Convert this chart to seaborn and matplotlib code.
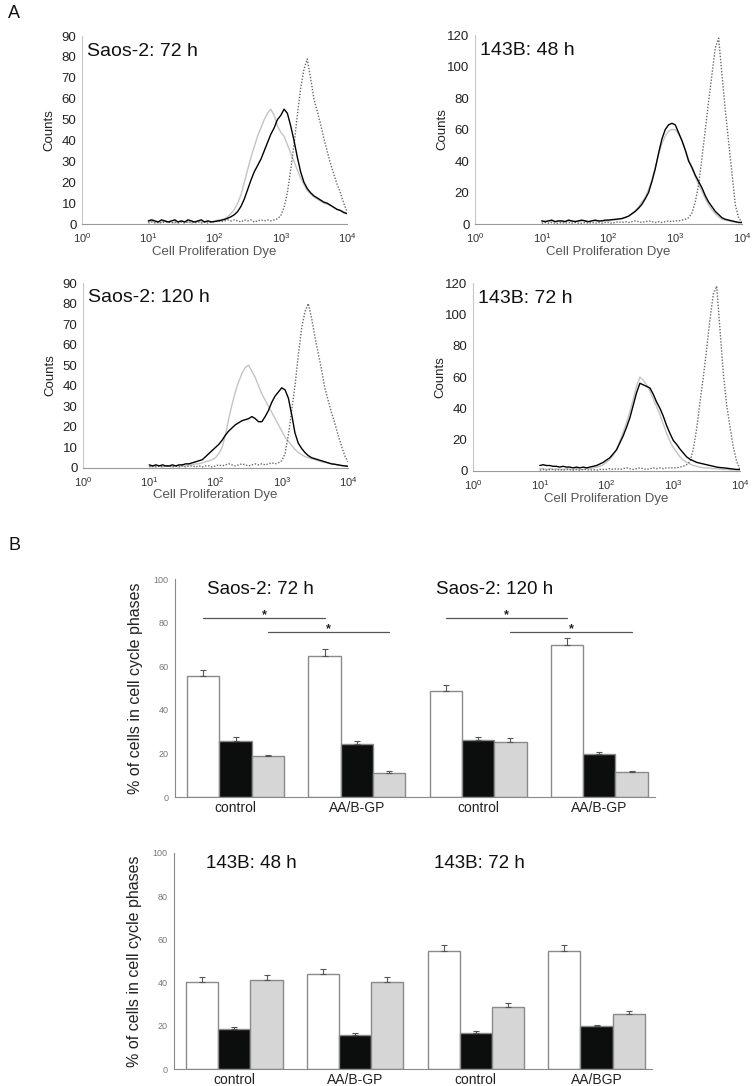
import numpy as np
import pandas as pd
import matplotlib
matplotlib.use("Agg")
import matplotlib.pyplot as plt
import seaborn as sns

sns.set_style("white")
plt.rcParams["font.family"] = ["Liberation Sans", "DejaVu Sans"]
plt.rcParams["mathtext.fontset"] = "custom"
plt.rcParams["mathtext.rm"] = "Liberation Sans"
plt.rcParams["mathtext.it"] = "Liberation Sans:italic"

## Panel A: flow cytometry histograms, counts read at log10(dye) = 1.00, 1.05, ... 4.00
dye_log = np.linspace(1.0, 4.0, 61)

saos72_black = [1.5, 2, 1.5, 1, 2, 1.5, 1, 1.5, 2, 1, 1.5, 1, 2, 1.5, 1, 1.5, 2, 1, 1.5, 1,
                1.2, 1.5, 1.8, 2.2, 2.8, 3.5, 4.5, 6, 8.5, 12, 16.5, 21, 25, 28, 31, 35, 39, 43, 46, 50,
                52, 55, 53, 47, 40, 32, 25, 20, 17, 15, 13.5, 12.5, 11.5, 10.5, 10, 9, 8, 7, 6.5, 5.5, 5]
saos72_gray = [1, 1.5, 1, 0.5, 1, 1.5, 1, 1, 0.5, 1, 1.5, 1, 1, 0.5, 1, 1.5, 1, 1, 1.5, 1,
               1.5, 1.8, 2, 2.5, 3.5, 5, 7, 10, 14, 20, 26, 32, 37, 42, 46, 50, 53, 55, 52, 47,
               44, 42, 38, 34, 30, 26, 22, 19, 16, 14.5, 13, 12, 11, 10, 9.5, 9, 8, 7, 6.5, 6, 5]
saos72_ref = [0.5, 1, 0.5, 1, 0.5, 1, 1, 0.5, 1, 0.5, 1, 0.5, 1, 1, 0.5, 1, 0.5, 1, 0.5, 1,
              1, 1.5, 1, 1.5, 2, 1.5, 2, 1.5, 1, 2, 1.5, 2, 1, 1.5, 2, 1.5, 2, 1.5, 2, 2.5,
              4, 8, 15, 26, 38, 52, 65, 74, 79, 70, 60, 54, 48, 41, 35, 29, 24, 19, 15, 10, 6]

b143_48_black = [2, 1.5, 2, 2.5, 1.5, 2, 2, 1.5, 2.5, 2, 1.5, 2, 2.5, 2, 1.5, 2, 2.5, 2, 2, 2.5,
                 2.5, 2.8, 3, 3.2, 3.5, 4.2, 5, 6.5, 8, 10, 12.5, 16, 20, 27, 35, 45, 54, 60, 63, 64,
                 63, 58, 53, 47, 40, 36, 31, 27, 23, 18, 14, 11, 8, 6, 4, 3, 2.5, 2, 1.5, 1, 1]
b143_48_gray = [1.5, 2, 1.5, 2, 1.5, 2, 1.5, 2, 2, 1.5, 2, 1.5, 2, 2, 1.5, 2, 2, 1.5, 2, 2,
                2, 2.3, 2.6, 3, 3.4, 4, 5, 6.5, 8.5, 11, 14, 17, 22, 28, 36, 44, 51, 56, 59, 60,
                60, 57, 53, 47, 41, 35, 30, 25, 21, 16, 12, 9, 6.5, 4.5, 3, 2.5, 2, 1.5, 1.2, 1, 0.8]
b143_48_ref = [0.5, 1, 0.5, 1, 0.5, 0.5, 1, 0.5, 1, 0.5, 1, 0.5, 0.5, 1, 0.5, 1, 0.5, 1, 0.5, 1,
               1, 0.5, 1, 1.5, 1, 1.5, 1, 1.5, 2, 1.5, 1, 1.5, 2, 1.5, 1, 1.5, 1, 1.5, 2, 1.5,
               2, 2, 2.5, 3, 4, 7, 14, 25, 42, 60, 78, 95, 112, 118, 95, 72, 52, 32, 12, 4, 1]

saos120_black = [1.5, 1, 1.5, 1, 1.5, 1, 1, 1.5, 1, 1.5, 1.5, 2, 2, 2.5, 3, 3.5, 4, 5.5, 7, 8.5,
                 10, 11.5, 13.5, 16, 18, 19.5, 21, 22, 23, 23.5, 24, 25, 24, 22.5, 22.5, 25, 28, 32, 35, 37,
                 39, 38, 34, 26, 17, 12, 9.5, 7.5, 6, 5, 4.5, 4, 3.5, 3, 2.5, 2, 1.8, 1.5, 1.2, 1, 0.8]
saos120_gray = [1, 0.5, 1, 1, 0.5, 1, 1, 0.5, 1, 1, 1, 1, 1.5, 1.5, 2, 2, 2.5, 3, 3.5, 4,
                5, 7, 10, 16, 24, 31, 37, 42, 46, 49, 50, 47, 44, 40, 36, 33, 30, 27, 24, 21,
                18, 15, 13, 11, 9, 7.5, 6.5, 5.5, 5, 4.5, 4, 3.5, 3, 2.7, 2.4, 2, 1.8, 1.5, 1.2, 1, 0.8]
saos120_ref = [0.5, 1, 0.5, 1, 0.5, 1, 1, 0.5, 1, 0.5, 1, 0.5, 1, 1, 0.5, 1, 0.5, 1, 1, 0.5,
               1, 1.5, 1, 1.5, 2, 1.5, 1, 1.5, 2, 1.5, 1, 1.5, 2, 1.5, 2, 1.5, 2, 2.5, 2, 2.5,
               3.5, 7, 16, 28, 40, 55, 68, 76, 80, 73, 64, 56, 48, 39, 33, 27, 22, 16, 11, 6, 3]

b143_72_black = [3.5, 4, 3.5, 3.5, 3, 3, 2.5, 3, 2.5, 2.5, 2, 2.5, 2, 2.5, 2, 2.5, 3, 3.5, 4.5, 5.5,
                 7, 8.5, 11, 13.5, 18, 22.5, 28, 34, 42, 50, 56, 55, 54, 53, 49, 44, 40, 35, 29, 24,
                 19.5, 17, 14, 11.5, 9, 7.5, 6.5, 5.5, 5, 4.5, 4, 3.5, 3, 2.5, 2.2, 2, 1.8, 1.5, 1.2, 1, 1]
b143_72_gray = [1.5, 1.5, 1, 1.5, 1, 1.5, 1, 1, 1.5, 1, 1, 1.5, 1, 1, 1.5, 1.5, 2, 2.5, 3, 4,
                5.5, 7.5, 10, 14, 19, 25, 31, 38, 46, 54, 60, 58, 55, 51, 46, 41, 36, 30, 24, 19,
                15, 12, 9, 7, 5.5, 4.5, 3.5, 3, 2.5, 2, 2, 1.8, 1.5, 1.5, 1.2, 1, 1, 0.8, 0.8, 0.6, 0.5]
b143_72_ref = [0.5, 1, 0.5, 1, 1, 0.5, 1, 0.5, 1, 1, 0.5, 1, 0.5, 1, 1, 0.5, 1, 0.5, 1, 1,
               1, 1.5, 1, 1.5, 1, 1.5, 2, 1.5, 1, 1.5, 2, 1.5, 1, 1.5, 2, 1.5, 2, 1.5, 2, 2,
               2, 2, 2.5, 3, 4, 6, 14, 27, 44, 60, 78, 97, 113, 118, 90, 62, 42, 28, 15, 6, 1]

hist_titles = ["Saos-2: 72 h", "143B: 48 h", "Saos-2: 120 h", "143B: 72 h"]
hist_ymax = [90, 120, 90, 120]
hist_ystep = [10, 20, 10, 20]

## Panel B: % of cells in cell cycle phases (mean + SD)
phases = ["G0/G1", "S", "G2/M"]
saos_labels = ["control", "AA/B-GP", "control", "AA/B-GP"]
saos_g1 = [55.5, 64.8, 48.8, 69.6]
saos_g1_err = [2.8, 3.2, 2.6, 3.5]
saos_s = [25.8, 24.5, 26.0, 19.6]
saos_s_err = [1.9, 1.0, 1.5, 1.0]
saos_g2 = [18.8, 11.2, 25.4, 11.3]
saos_g2_err = [0.6, 0.6, 1.5, 0.8]
saos_times = ["Saos-2: 72 h", "Saos-2: 120 h"]

b143_labels = ["control", "AA/B-GP", "control", "AA/BGP"]
b143_g1 = [40.3, 43.9, 54.8, 54.8]
b143_g1_err = [2.3, 2.3, 2.6, 2.6]
b143_s = [18.5, 15.7, 16.6, 20.0]
b143_s_err = [1.0, 1.1, 0.9, 0.6]
b143_g2 = [41.2, 40.3, 28.6, 25.5]
b143_g2_err = [2.2, 2.3, 1.9, 1.3]
b143_times = ["143B: 48 h", "143B: 72 h"]

# significant differences (phase compared, height of the line)
saos_sig = [("G0/G1", 82), ("G2/M", 75.5)]

hist_colors = {"control": "#c4c4c4", "0 h": "#6a6a6a", "treated": "#000000"}
hist_dashes = {"control": "", "0 h": (1, 1.2), "treated": ""}
bar_colors = ["#ffffff", "#0a0f0c", "#d6d6d6"]

fig = plt.figure(figsize=(7.56, 10.86), dpi=100)

hist_axes = [fig.add_axes([0.1085, 0.7937, 0.3505, 0.1731]),
             fig.add_axes([0.6283, 0.7937, 0.3532, 0.1740]),
             fig.add_axes([0.1098, 0.5691, 0.3505, 0.1703]),
             fig.add_axes([0.6257, 0.5663, 0.3532, 0.1731])]
hist_data = [(saos72_black, saos72_gray, saos72_ref),
             (b143_48_black, b143_48_gray, b143_48_ref),
             (saos120_black, saos120_gray, saos120_ref),
             (b143_72_black, b143_72_gray, b143_72_ref)]

for ax, (blk, gry, ref), title, ymax, ystep in zip(hist_axes, hist_data, hist_titles, hist_ymax, hist_ystep):
    n = len(dye_log)
    df = pd.DataFrame({
        "dye": np.tile(10 ** dye_log, 3),
        "counts": np.concatenate([gry, ref, blk]),
        "sample": np.repeat(["control", "0 h", "treated"], n),
    })
    sns.lineplot(data=df, x="dye", y="counts", hue="sample", style="sample",
                 hue_order=["control", "0 h", "treated"], style_order=["control", "0 h", "treated"],
                 palette=hist_colors, dashes=hist_dashes, estimator=None, linewidth=1.0,
                 legend=False, ax=ax)
    ax.set_xscale("log")
    ax.set_xlim(1, 1e4)
    ax.set_ylim(0, ymax)
    ax.set_xticks([1, 10, 100, 1000, 10000])
    ax.minorticks_off()
    ax.set_yticks(range(0, ymax + 1, ystep))
    sns.despine(ax=ax)
    ax.spines["left"].set_color("#c8c8c8")
    ax.spines["bottom"].set_color("#9a9a9a")
    ax.tick_params(axis="y", length=0, pad=4, labelsize=9.5, labelcolor="#222222")
    ax.tick_params(axis="x", length=2, color="#aaaaaa", pad=3, labelsize=8, labelcolor="#333333")
    ax.set_xlabel("Cell Proliferation Dye", fontsize=9.5, color="#555555")
    ax.xaxis.set_label_coords(0.5, -0.115)
    ax.set_ylabel("Counts", fontsize=9.5, color="#222222")
    ax.yaxis.set_label_coords(-0.1, 0.5)
    ax.text(0.02, 0.92, title, transform=ax.transAxes, fontsize=14, color="#111111",
            ha="left", va="center")


def draw_bars(ax, labels, g1, s, g2, errs, times, sig):
    slots = list(range(len(labels)))
    df = pd.DataFrame({
        "slot": slots * 3,
        "phase": np.repeat(phases, len(slots)),
        "pct": g1 + s + g2,
    })
    sns.barplot(data=df, x="slot", y="pct", hue="phase", hue_order=phases,
                palette=bar_colors, edgecolor="#8a8a8a", linewidth=1.0,
                errorbar=None, width=0.8, legend=False, ax=ax)
    centers = {}
    for phase, cont, err in zip(phases, ax.containers, errs):
        bars = sorted(cont, key=lambda b: b.get_x())
        cx = [b.get_x() + b.get_width() / 2 for b in bars]
        h = [b.get_height() for b in bars]
        centers[phase] = cx
        ax.errorbar(cx, h, yerr=[np.zeros(len(err)), err], fmt="none",
                    ecolor="#555555", elinewidth=0.8, capsize=2, capthick=0.8)
    for k in range(0, len(slots), 2):
        for phase, yline in sig:
            x0, x1 = centers[phase][k], centers[phase][k + 1]
            ax.plot([x0, x1], [yline, yline], color="#555555", lw=0.9)
            ax.text((x0 + x1) / 2, yline + 1.6, "*", ha="center", va="center",
                    fontsize=9, fontweight="bold", color="#222222")
    ax.set_xlim(-0.5, 3.46)
    ax.set_ylim(0, 100)
    ax.set_yticks(range(0, 101, 20))
    ax.set_xticks(slots)
    ax.set_xticklabels(labels)
    ax.set_xlabel("")
    ax.set_ylabel("% of cells in cell cycle phases", fontsize=11.5, color="#222222")
    ax.yaxis.set_label_coords(-0.066, 0.5)
    sns.despine(ax=ax)
    for sp in ["left", "bottom"]:
        ax.spines[sp].set_color("#8a8a8a")
    ax.tick_params(axis="y", length=3, color="#8a8a8a", pad=1.5, labelsize=6.5, labelcolor="#777777")
    ax.tick_params(axis="x", length=0, pad=3, labelsize=10, labelcolor="#222222")
    for xt, t in zip([0.067, 0.543], times):
        ax.text(xt, 0.95, t, transform=ax.transAxes, fontsize=13.5, color="#111111",
                ha="left", va="center")


ax_b1 = fig.add_axes([0.2315, 0.2661, 0.635, 0.2007])
draw_bars(ax_b1, saos_labels, saos_g1, saos_s, saos_g2,
          [saos_g1_err, saos_s_err, saos_g2_err], saos_times, saos_sig)

ax_b2 = fig.add_axes([0.2302, 0.0154, 0.6323, 0.1994])
draw_bars(ax_b2, b143_labels, b143_g1, b143_s, b143_g2,
          [b143_g1_err, b143_s_err, b143_g2_err], b143_times, [])

fig.text(0.011, 0.988, "A", fontsize=13, ha="left", va="center", color="#111111")
fig.text(0.011, 0.498, "B", fontsize=13, ha="left", va="center", color="#111111")

fig.savefig("out.png", dpi=100)
